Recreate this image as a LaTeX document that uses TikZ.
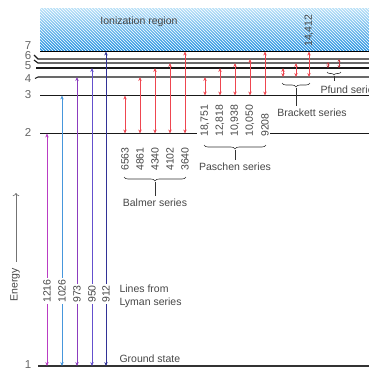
\documentclass[tikz,border=0pt]{standalone}
\usepackage{fontspec}
\setmainfont{Liberation Sans}
\usetikzlibrary{arrows.meta,patterns,decorations.pathreplacing}
\definecolor{ionTop}{RGB}{185,225,248}
\definecolor{ionBot}{RGB}{35,145,225}
\definecolor{trRed}{RGB}{238,70,80}
\definecolor{lyA}{RGB}{185,60,195}
\definecolor{lyB}{RGB}{70,150,220}
\definecolor{lyC}{RGB}{140,60,190}
\definecolor{lyD}{RGB}{100,80,205}
\definecolor{lyE}{RGB}{50,50,150}
\definecolor{txt}{RGB}{70,70,70}

\begin{document}
\begin{tikzpicture}[x=1pt,y=-1pt,
    level/.style={line width=1.1pt,black!90},
    trans/.style={{Stealth[length=4pt,width=3.4pt]}-{Stealth[length=4pt,width=3.4pt]},line width=0.7pt},
    wlen/.style={rotate=90,anchor=west,font=\fontsize{10.5}{11}\selectfont,text=txt,inner sep=1pt},
    lbl/.style={font=\fontsize{10.5}{13}\selectfont,text=txt},
    lvnum/.style={font=\fontsize{11.5}{12}\selectfont,text=black!60},
    brc/.style={decorate,decoration={brace,mirror,amplitude=4pt},black!80,line width=0.6pt}]
    \useasboundingbox (0,0) rectangle (369,370);
    %--- ionization region ---
    \shade[top color=ionTop,bottom color=ionBot] (40,8) rectangle (369,51.5);
    \fill[pattern=north west lines,pattern color=white] (40,8) rectangle (369,51.5);
    \node[lbl] (ion) at (139,22) {Ionization region};
    %--- energy levels ---
    \draw[line width=1.5pt] (40,51.5) -- (369,51.5);
    \draw[level] (34,55) -- (38,59) -- (369,59);
    \draw[level] (34,60) -- (38,63) -- (369,63);
    \draw[level] (36,68) -- (369,68);
    \draw[level] (35,78.5) -- (38,77) -- (369,77);
    \draw[level] (40,95.5) -- (369,95.5);
    \draw[level] (40,133.5) -- (197,133.5);
    \draw[level] (270,133.5) -- (369,133.5);
    \draw[line width=1.8pt,black!80] (38,366) -- (369,366);
    \node[lvnum] (n7) at (28,46) {7};
    \node[lvnum] (n6) at (28,56) {6};
    \node[lvnum] (n5) at (28,66) {5};
    \node[lvnum] (n4) at (28,79) {4};
    \node[lvnum] (n3) at (28,95) {3};
    \node[lvnum] (n2) at (28,132) {2};
    \node[lvnum] (n1) at (28,365) {1};
    %--- Lyman ---
    \draw[trans,lyA] (47,366) -- (47,133.5);
    \draw[trans,lyB] (62,366) -- (62,95.5);
    \draw[trans,lyC] (77,366) -- (77,77);
    \draw[trans,lyD] (92,366) -- (92,68);
    \draw[trans,lyE] (106,366) -- (106,51.5);
    \node[wlen,fill=white] (ly1216) at (47,304) {1216};
    \node[wlen,fill=white] (ly1026) at (62,304) {1026};
    \node[wlen,fill=white] (ly973) at (77,304) {973};
    \node[wlen,fill=white] (ly950) at (92,304) {950};
    \node[wlen,fill=white] (ly912) at (106,304) {912};
    \node[lbl,anchor=west,align=left] (lyman) at (116,296) {Lines from\\Lyman series};
    \node[lbl,anchor=west] (ground) at (116,359) {Ground state};
    %--- Balmer ---
    \draw[trans,trRed] (125,133.5) -- (125,95.5);
    \draw[trans,trRed] (140,133.5) -- (140,77);
    \draw[trans,trRed] (155,133.5) -- (155,68);
    \draw[trans,trRed] (170,133.5) -- (170,63);
    \draw[trans,trRed] (185,133.5) -- (185,51.5);
    \node[wlen] (ba6563) at (125,172) {6563};
    \node[wlen] (ba4861) at (140,172) {4861};
    \node[wlen] (ba4340) at (155,172) {4340};
    \node[wlen] (ba4102) at (170,172) {4102};
    \node[wlen] (ba3640) at (185,172) {3640};
    \draw[brc] (124,177) -- (186,177);
    \node[lbl] (balmer) at (155,203) {Balmer series};
    \draw[black!80,line width=0.6pt] (155,182) -- (balmer.north);
    %--- Paschen ---
    \draw[trans,trRed] (205,95.5) -- (205,77);
    \draw[trans,trRed] (220,95.5) -- (220,68);
    \draw[trans,trRed] (235,95.5) -- (235,63);
    \draw[trans,trRed] (250,95.5) -- (250,59);
    \draw[trans,trRed] (265,95.5) -- (265,51.5);
    \node[wlen] (pa18751) at (205,138) {18,751};
    \node[wlen] (pa12818) at (220,138) {12,818};
    \node[wlen] (pa10938) at (235,138) {10,938};
    \node[wlen] (pa10050) at (250,138) {10,050};
    \node[wlen] (pa9208) at (265,138) {9208};
    \draw[brc] (204,145) -- (266,145);
    \node[lbl] (paschen) at (235,167) {Paschen series};
    \draw[black!80,line width=0.6pt] (235,150) -- (paschen.north);
    %--- Brackett ---
    \draw[trans,trRed] (283,77) -- (283,68);
    \draw[trans,trRed] (296,77) -- (296,63);
    \draw[trans,trRed] (309,77) -- (309,51.5);
    \node[wlen] (br14412) at (309,48) {14,412};
    \draw[brc] (282,83) -- (310,83);
    \node[lbl] (brackett) at (312,113) {Brackett series};
    \draw[black!80,line width=0.6pt] (296,88) -- (296,106);
    %--- Pfund ---
    \draw[{Stealth[length=2.8pt,width=2.8pt]}-{Stealth[length=2.8pt,width=2.8pt]},line width=0.7pt,trRed!80!black] (328,68) -- (328,62);
    \draw[{Stealth[length=2.8pt,width=2.8pt]}-{Stealth[length=2.8pt,width=2.8pt]},line width=0.7pt,trRed!80!black] (339,68) -- (339,59);
    \draw[decorate,decoration={brace,mirror,amplitude=3pt},black!80,line width=0.6pt] (327,72) -- (341,72);
    \node[lbl,anchor=west] (pfund) at (317,90) {Pfund series};
    \draw[black!80,line width=0.6pt] (334,76) -- (334,81);
    %--- energy axis ---
    \node[lbl,rotate=90] (energy) at (15,285) {Energy};
    \coordinate (eTop) at (16,193);
    \draw[->,black!55,line width=0.7pt] (16,262) -- (eTop);
\end{tikzpicture}
\end{document}
